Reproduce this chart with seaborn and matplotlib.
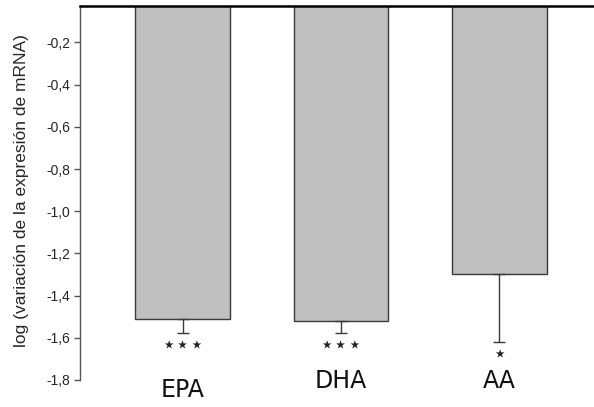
import matplotlib
matplotlib.use("Agg")
import matplotlib.pyplot as plt
import seaborn as sns
import numpy as np

categories = ["EPA", "DHA", "AA"]
means = [-1.512, -1.520, -1.297]
err_lower = [0.065, 0.056, 0.321]
stars = ["⋆⋆⋆", "⋆⋆⋆", "⋆"]
yticks = [-0.2, -0.4, -0.6, -0.8, -1.0, -1.2, -1.4, -1.6, -1.8]

sns.set_style("white")
plt.rcParams["font.family"] = ["Liberation Sans", "DejaVu Sans"]

fig = plt.figure(figsize=(5.94, 4.07), dpi=100)
ax = fig.add_axes([80 / 594, 27 / 407, 514 / 594, 374.5 / 407])

sns.barplot(x=categories, y=means, color="#c0c0c0", saturation=1,
            edgecolor="#3a3a3a", linewidth=1.0, width=0.6, ax=ax)

xpos = np.arange(len(categories))
ax.errorbar(xpos, means, yerr=[err_lower, [0] * len(means)], fmt="none",
            ecolor="#3a3a3a", elinewidth=1.0, capsize=4, capthick=1.0)

# significance marks under each error bar
for x, m, e, s in zip(xpos, means, err_lower, stars):
    ax.text(x, m - e - 0.062, s, ha="center", va="center", fontsize=16.5,
            family="DejaVu Sans", color="#222222")

# category names under the axis
label_y = [-1.848, -1.805, -1.805]
for x, name, ly in zip(xpos, categories, label_y):
    ax.text(x, ly, name, ha="center", va="center", fontsize=17,
            family="DejaVu Sans", color="#111111", clip_on=False)

ax.set_xlim(-0.65, 2.6)
ax.set_ylim(-1.8, -0.025)
ax.set_yticks(yticks)
ax.set_yticklabels([f"{t:.1f}".replace(".", ",") for t in yticks], fontsize=10)
ax.set_xticks([])
ax.set_xlabel("")
ax.set_ylabel("log (variación de la expresión de mRNA)", fontsize=12.5)
ax.yaxis.set_label_coords(-0.1, 0.505)

ax.tick_params(axis="y", direction="out", length=4, width=1, color="#555555",
               pad=3, left=True)
for side in ("right", "bottom"):
    ax.spines[side].set_visible(False)
ax.spines["left"].set_color("#555555")
ax.spines["left"].set_linewidth(1.0)
ax.spines["top"].set_color("black")
ax.spines["top"].set_linewidth(1.8)

fig.savefig("out.png", dpi=100)
